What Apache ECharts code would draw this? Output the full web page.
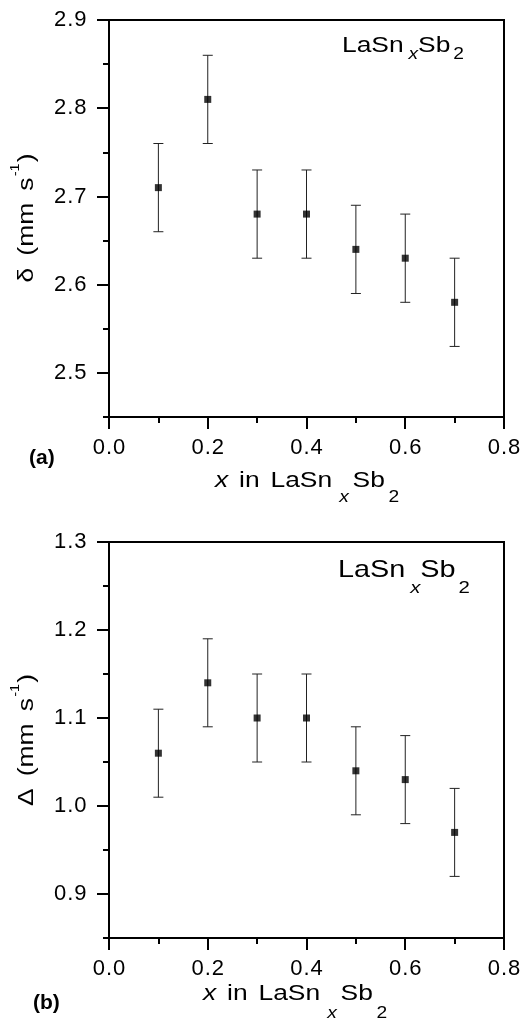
<!DOCTYPE html>
<html>
<head>
<meta charset="utf-8">
<script src="https://cdn.jsdelivr.net/npm/echarts@6/dist/echarts.min.js"></script>
<style>
  html, body { margin: 0; padding: 0; background: #fff; }
  #chart { width: 525px; height: 1021px; }
</style>
</head>
<body>
<div id="chart"></div>
<script>
// 数据
var xValues = [0.1, 0.2, 0.3, 0.4, 0.5, 0.6, 0.7];
var isomerShift = [2.71, 2.81, 2.68, 2.68, 2.64, 2.63, 2.58];
var isomerErr = [0.05, 0.05, 0.05, 0.05, 0.05, 0.05, 0.05];
var quadSplit = [1.06, 1.14, 1.10, 1.10, 1.04, 1.03, 0.97];
var quadErr = [0.05, 0.05, 0.05, 0.05, 0.05, 0.05, 0.05];
var xMajor = [0, 0.2, 0.4, 0.6, 0.8];
var xMinor = [0.1, 0.3, 0.5, 0.7];
var yMajorA = [2.5, 2.6, 2.7, 2.8, 2.9];
var yMinorA = [2.45, 2.55, 2.65, 2.75, 2.85];
var yMajorB = [0.9, 1.0, 1.1, 1.2, 1.3];
var yMinorB = [0.85, 0.95, 1.05, 1.15, 1.25];

var FONT = 'Liberation Sans, Arial, sans-serif';
var STRETCH = 1.2; // 原图文字横向偏宽
var base = { fontFamily: FONT, color: '#000', verticalAlign: 'top' };
function st(o) { return Object.assign({}, base, o); }
var rich = {
    n: st({ fontSize: 22, lineHeight: 28 }),
    sp: st({ fontSize: 22, lineHeight: 28, padding: [0, 1.5, 0, 1.5] }),
    i: st({ fontSize: 22, lineHeight: 28, fontStyle: 'italic' }),
    // x轴名称下标 (a)/(b)
    xsubi: st({ fontSize: 16, lineHeight: 16, fontStyle: 'italic', padding: [20, 3, 0, 6] }),
    xsub: st({ fontSize: 16, lineHeight: 16, padding: [20, 0, 0, 3] }),
    xsubBi: st({ fontSize: 16, lineHeight: 16, fontStyle: 'italic', padding: [23, 3, 0, 6] }),
    xsubB: st({ fontSize: 16, lineHeight: 16, padding: [23, 0, 0, 3] }),
    // y轴名称
    yn: st({ fontSize: 22, lineHeight: 28, padding: [6, 0, 0, 0] }),
    ysp: st({ fontSize: 22, lineHeight: 28, padding: [6, 2, 0, 2] }),
    sup: st({ fontSize: 12, lineHeight: 12, padding: [0, 1, 0, 1] }),
    // 图内标注 (a)
    asubi: st({ fontSize: 16, lineHeight: 16, fontStyle: 'italic', padding: [12, 0, 0, 4] }),
    asub: st({ fontSize: 16, lineHeight: 16, padding: [12, 0, 0, 2.5] }),
    // 图内标注 (b)
    nb: st({ fontSize: 24, lineHeight: 30 }),
    bsubi: st({ fontSize: 17, lineHeight: 17, fontStyle: 'italic', padding: [22, 0, 0, 4] }),
    bsub: st({ fontSize: 17, lineHeight: 17, padding: [22, 0, 0, 2.5] }),
    // 刻度
    t: st({ fontSize: 22, lineHeight: 22, padding: [0, 0.5, 0, 0.5] })
};
function seg(s, style, spStyle) {
    return s.split(' ').map(function (w) { return w ? '{' + style + '|' + w + '}' : ''; })
        .join('{' + spStyle + '| }');
}
function xName(subi, sub) {
    return '{i|x}' + seg(' in LaSn', 'n', 'sp') + '{' + subi + '|x}{n|Sb}{' + sub + '|2}';
}
function formula(n, subi, sub) {
    return '{' + n + '|LaSn}{' + subi + '|x}{' + n + '|Sb}{' + sub + '|2}';
}
function yName(sym) {
    return seg(sym + ' (mm s', 'yn', 'ysp') + '{sup|-1}{yn|)}';
}
function tickFmt(v) {
    return v.toFixed(1).split('').map(function (c) { return '{t|' + c + '}'; }).join('');
}
function label(text, x, y, rot) {
    return { type: 'text', x: x, y: y, rotation: rot || 0, scaleX: STRETCH,
        style: { text: text, rich: rich, align: 'center', verticalAlign: 'middle' } };
}

function pairs(ys) {
    return xValues.map(function (x, i) { return [x, ys[i]]; });
}
function errData(ys, es) {
    return xValues.map(function (x, i) { return [x, ys[i] - es[i], ys[i] + es[i]]; });
}
var errRender = function (params, api) {
    var lo = api.coord([api.value(0), api.value(1)]);
    var hi = api.coord([api.value(0), api.value(2)]);
    var w = 5;
    var ls = { stroke: '#222', lineWidth: 1 };
    return { type: 'group', children: [
        { type: 'line', shape: { x1: lo[0], y1: lo[1], x2: hi[0], y2: hi[1] }, style: ls },
        { type: 'line', shape: { x1: lo[0] - w, y1: lo[1], x2: lo[0] + w, y2: lo[1] }, style: ls },
        { type: 'line', shape: { x1: hi[0] - w, y1: hi[1], x2: hi[0] + w, y2: hi[1] }, style: ls }
    ]};
};

function xAxes(gi) {
    var b = { type: 'value', gridIndex: gi, min: 0, max: 0.8, splitLine: { show: false } };
    return [
        Object.assign({}, b, {
            axisLine: { onZero: false, lineStyle: { color: '#000', width: 2 } },
            axisTick: { customValues: xMajor, length: 12, lineStyle: { color: '#000', width: 2 } },
            axisLabel: { customValues: xMajor, margin: 20, formatter: tickFmt, rich: rich }
        }),
        Object.assign({}, b, {
            position: 'bottom',
            axisLine: { show: false, onZero: false },
            axisTick: { customValues: xMinor, length: 6, lineStyle: { color: '#000', width: 2 } },
            axisLabel: { show: false }
        })
    ];
}
function yAxes(gi, mn, mx, major, minor) {
    var b = { type: 'value', gridIndex: gi, min: mn, max: mx, splitLine: { show: false } };
    return [
        Object.assign({}, b, {
            axisLine: { onZero: false, lineStyle: { color: '#000', width: 2 } },
            axisTick: { customValues: major, length: 12, lineStyle: { color: '#000', width: 2 } },
            axisLabel: { customValues: major, margin: 22, formatter: tickFmt, rich: rich }
        }),
        Object.assign({}, b, {
            position: 'left',
            axisLine: { show: false, onZero: false },
            axisTick: { customValues: minor, length: 6, lineStyle: { color: '#000', width: 2 } },
            axisLabel: { show: false }
        })
    ];
}

var myChart = echarts.init(document.getElementById('chart'));
var option = {
    backgroundColor: '#fff',
    animation: false,
    grid: [
        { left: 109, width: 395, top: 20, height: 397, show: true, borderColor: '#000', borderWidth: 2 },
        { left: 109, width: 395, top: 542, height: 396, show: true, borderColor: '#000', borderWidth: 2 }
    ],
    xAxis: xAxes(0).concat(xAxes(1)),
    yAxis: yAxes(0, 2.45, 2.9, yMajorA, yMinorA).concat(yAxes(1, 0.85, 1.3, yMajorB, yMinorB)),
    graphic: [
        label(yName('δ'), 24, 218, Math.PI / 2),
        label(yName('Δ'), 24, 740, Math.PI / 2),
        label(xName('xsubi', 'xsub'), 307, 484),
        label(xName('xsubBi', 'xsubB'), 295, 997),
        label(formula('n', 'asubi', 'asub'), 403, 49),
        label(formula('nb', 'bsubi', 'bsub'), 404, 573),
        { type: 'text', left: 29, top: 448, style: { text: '(a)', fontSize: 21, fontWeight: 'bold', fontFamily: FONT, fill: '#000' } },
        { type: 'text', left: 33, top: 993, style: { text: '(b)', fontSize: 21, fontWeight: 'bold', fontFamily: FONT, fill: '#000' } }
    ],
    series: [
        { type: 'custom', xAxisIndex: 0, yAxisIndex: 0, renderItem: errRender, data: errData(isomerShift, isomerErr), z: 2 },
        { type: 'scatter', xAxisIndex: 0, yAxisIndex: 0, symbol: 'rect', symbolSize: 7, itemStyle: { color: '#000' }, data: pairs(isomerShift), z: 3 },
        { type: 'custom', xAxisIndex: 2, yAxisIndex: 2, renderItem: errRender, data: errData(quadSplit, quadErr), z: 2 },
        { type: 'scatter', xAxisIndex: 2, yAxisIndex: 2, symbol: 'rect', symbolSize: 7, itemStyle: { color: '#000' }, data: pairs(quadSplit), z: 3 }
    ]
};
myChart.setOption(option);
</script>
</body>
</html>
